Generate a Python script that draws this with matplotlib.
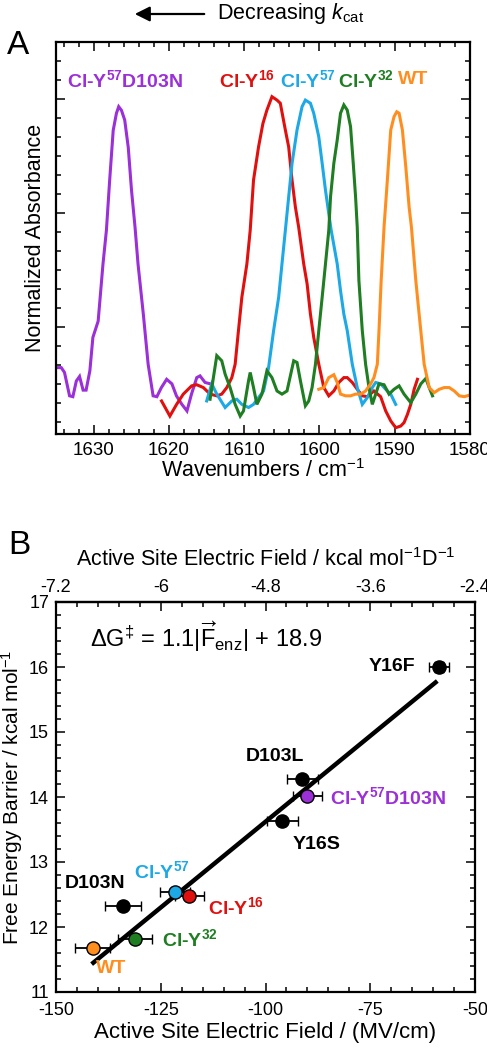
import matplotlib
matplotlib.use("Agg")
import matplotlib.pyplot as plt
from matplotlib.ticker import MultipleLocator, FuncFormatter, NullFormatter

plt.rcParams['font.family'] = ['Liberation Sans', 'DejaVu Sans']
plt.rcParams['mathtext.fontset'] = 'custom'
plt.rcParams['mathtext.rm'] = 'Liberation Sans'
plt.rcParams['mathtext.it'] = 'Liberation Sans:italic'
plt.rcParams['mathtext.bf'] = 'Liberation Sans:bold'
plt.rcParams['axes.unicode_minus'] = False

# ---- panel A: IR spectra (wavenumber, normalized absorbance) ----
purple_w = [1635.0, 1634.3, 1633.87, 1633.2, 1632.76, 1632.3, 1631.87, 1631.4, 1631.0, 1630.5,
            1630.1, 1629.4, 1628.76, 1628.3, 1627.87, 1627.4, 1626.97, 1626.67, 1626.3, 1625.87,
            1625.4, 1624.97, 1624.5, 1624.1, 1623.4, 1622.76, 1622.1, 1621.6, 1621.0, 1620.3,
            1619.6, 1619.0, 1618.3, 1617.6, 1617.0, 1616.3, 1615.87, 1615.2, 1614.5]
purple_a = [0.057, 0.057, 0.040, -0.042, -0.045, 0.010, 0.026, -0.022, -0.022, 0.046,
            0.163, 0.22, 0.42, 0.54, 0.715, 0.89, 0.95, 0.973, 0.96, 0.926,
            0.83, 0.68, 0.55, 0.42, 0.245, 0.069, -0.042, -0.045, -0.013, 0.016,
            0.0, -0.042, -0.071, -0.095, -0.036, 0.022, 0.028, 0.005, 0.0]

red_w = [1620.98, 1619.87, 1618.98, 1618.09, 1616.98, 1616.31, 1615.42, 1614.53, 1613.64, 1612.98,
         1612.31, 1611.64, 1611.2, 1610.76, 1610.31, 1609.64, 1609.2, 1608.76, 1608.09, 1607.51,
         1606.98, 1606.31, 1605.64, 1605.2, 1604.53, 1604.09, 1603.64, 1603.2, 1602.76, 1602.09,
         1601.64, 1601.2, 1600.76, 1600.09, 1599.42, 1598.76, 1598.09, 1597.42, 1596.76, 1596.31,
         1595.64, 1594.98, 1594.31, 1593.64, 1592.76, 1591.87, 1591.2, 1590.53, 1589.87, 1589.2,
         1588.76, 1588.31, 1587.87, 1587.42, 1586.98]
red_a = [-0.060, -0.113, -0.072, -0.036, -0.007, -0.003, -0.013, -0.036, -0.042, -0.036,
         -0.013, 0.022, 0.069, 0.187, 0.304, 0.421, 0.539, 0.715, 0.832, 0.914,
         0.961, 1.008, 0.996, 0.985, 0.891, 0.832, 0.715, 0.621, 0.55, 0.421,
         0.351, 0.245, 0.163, 0.069, -0.013, -0.042, -0.025, 0.005, 0.022, 0.022,
         0.005, -0.019, -0.042, -0.045, -0.025, -0.045, -0.095, -0.130, -0.154, -0.148,
         -0.136, -0.107, -0.072, -0.019, 0.016]

blue_w = [1614.98, 1614.31, 1613.64, 1612.53, 1611.64, 1610.98, 1610.31, 1609.42, 1608.76, 1608.09,
          1607.42, 1606.76, 1606.09, 1605.42, 1604.98, 1604.53, 1604.09, 1603.64, 1602.98, 1602.31,
          1601.87, 1601.2, 1600.76, 1600.09, 1599.64, 1599.2, 1598.76, 1598.44, 1597.64, 1597.2,
          1596.76, 1596.31, 1595.64, 1594.98, 1594.31, 1593.64, 1592.98, 1592.53, 1591.87, 1591.2,
          1590.53, 1589.87]
blue_a = [-0.060, 0.0, -0.036, -0.083, -0.060, -0.054, -0.072, -0.083, -0.072, -0.048,
          -0.025, 0.057, 0.187, 0.304, 0.421, 0.539, 0.656, 0.774, 0.891, 0.973,
          0.996, 0.985, 0.95, 0.867, 0.774, 0.68, 0.597, 0.539, 0.421, 0.327,
          0.245, 0.187, 0.069, -0.013, -0.072, -0.048, -0.013, 0.005, 0.0, -0.019,
          -0.036, -0.072]

green_w = [1614.53, 1614.09, 1613.64, 1612.98, 1612.53, 1611.87, 1611.2, 1610.53, 1610.09, 1609.42,
           1609.2, 1608.76, 1608.31, 1607.64, 1606.98, 1606.31, 1605.64, 1604.98, 1604.31, 1603.42,
           1602.98, 1602.53, 1601.87, 1601.42, 1600.98, 1600.53, 1600.09, 1599.64, 1599.2, 1598.76,
           1598.53, 1598.09, 1597.64, 1597.2, 1596.76, 1596.31, 1595.87, 1595.51, 1595.2, 1594.98,
           1594.76, 1594.31, 1593.87, 1593.42, 1592.98, 1592.53, 1592.09, 1591.42, 1590.76, 1590.09,
           1589.42, 1588.76, 1587.87, 1587.2, 1586.53, 1585.87, 1585.42, 1584.98]
green_a = [-0.054, 0.022, 0.099, 0.081, 0.034, -0.013, -0.072, -0.113, -0.095, 0.011,
           0.040, -0.013, -0.072, -0.036, 0.046, 0.022, -0.025, -0.036, -0.025, 0.081,
           0.075, 0.011, -0.077, -0.060, -0.013, 0.069, 0.187, 0.304, 0.421, 0.539,
           0.656, 0.774, 0.856, 0.95, 0.979, 0.961, 0.903, 0.774, 0.656, 0.55,
           0.363, 0.187, 0.069, -0.013, -0.072, -0.036, 0.0, -0.003, -0.036, -0.019,
           -0.007, -0.036, -0.066, -0.036, 0.0, 0.019, -0.013, -0.042]

orange_w = [1600.09, 1599.42, 1598.76, 1598.09, 1597.64, 1597.2, 1596.53, 1595.87, 1595.2, 1594.53,
            1593.87, 1593.2, 1592.76, 1592.31, 1592.09, 1591.8, 1591.42, 1590.98, 1590.53, 1590.09,
            1589.73, 1589.42, 1588.98, 1588.53, 1588.09, 1587.78, 1587.2, 1586.76, 1586.09, 1585.42,
            1584.76, 1584.09, 1583.42, 1582.76, 1582.09, 1581.42, 1580.76, 1580.0]
orange_a = [-0.019, -0.013, 0.022, 0.032, 0.005, -0.036, -0.042, -0.042, -0.036, -0.036,
            -0.025, 0.0, 0.022, 0.069, 0.187, 0.363, 0.55, 0.715, 0.891, 0.938,
            0.955, 0.95, 0.891, 0.762, 0.621, 0.55, 0.363, 0.245, 0.069, -0.013,
            -0.031, -0.019, -0.013, -0.013, -0.025, -0.042, -0.045, -0.039]

PURPLE = '#9B2FD8'
RED = '#E0100E'
BLUE = '#1DA8E6'
GREEN = '#1F7D22'
ORANGE = '#FF8E1E'

spectra = [(purple_w, purple_a, PURPLE), (red_w, red_a, RED), (blue_w, blue_a, BLUE),
           (green_w, green_a, GREEN), (orange_w, orange_a, ORANGE)]
spec_labels = [r'Cl-Y$^{\mathbf{57}}$D103N', r'Cl-Y$^{\mathbf{16}}$', r'Cl-Y$^{\mathbf{57}}$',
               r'Cl-Y$^{\mathbf{32}}$', 'WT']
spec_label_x = [1633.5, 1613.3, 1605.3, 1597.6, 1589.6]
spec_colors = [PURPLE, RED, BLUE, GREEN, ORANGE]

# ---- panel B: barrier vs field ----
mutants = ['Y16F', 'D103L', 'Cl-Y57D103N', 'Y16S', 'Cl-Y57', 'Cl-Y16', 'D103N', 'Cl-Y32', 'WT']
field = [-58.6, -91.2, -90.0, -96.0, -121.6, -118.2, -133.9, -131.2, -141.2]
field_err = [2.4, 3.7, 3.4, 3.7, 3.5, 3.5, 4.3, 4.1, 4.2]
barrier = [16.0, 14.27, 14.01, 13.63, 12.54, 12.47, 12.33, 11.81, 11.67]
barrier_err = [0.07, 0.05, 0.05, 0.05, 0.05, 0.05, 0.05, 0.05, 0.05]
point_colors = ['black', 'black', PURPLE, 'black', BLUE, RED, 'black', GREEN, ORANGE]
fit_slope = 1.1
fit_icept = 18.9
fit_range = [-141.5, -59.0]
MV_TO_KCAL = 0.048

fig = plt.figure(figsize=(4.87, 10.5), dpi=100)

# ---------------- panel A ----------------
axA = fig.add_axes([56 / 487, 1 - 434 / 1050, 414 / 487, 392 / 1050])
for w, a, c in spectra:
    axA.plot(w, a, color=c, lw=2.2, solid_joinstyle='miter')
axA.set_xlim(1635, 1580)
axA.set_ylim(-0.176, 1.2)
axA.xaxis.set_major_locator(MultipleLocator(10))
axA.xaxis.set_minor_locator(MultipleLocator(2))
axA.yaxis.set_major_locator(MultipleLocator(0.4, offset=0.2))
axA.yaxis.set_minor_locator(MultipleLocator(1 / 15))
axA.yaxis.set_major_formatter(NullFormatter())
axA.set_xlabel('Wavenumbers / cm$^{-1}$', fontsize=15.5)
axA.set_ylabel('Normalized Absorbance', fontsize=15.5)
axA.xaxis.set_label_coords(0.5, -0.092)
axA.xaxis.label.set_va('center')
axA.yaxis.set_label_coords(-0.05, 0.5)
axA.yaxis.label.set_va('center')
for lab, x, c in zip(spec_labels, spec_label_x, spec_colors):
    axA.text(x, 1.067, lab, color=c, fontsize=14, fontweight='bold', ha='left', va='center')

# ---------------- panel B ----------------
axB = fig.add_axes([56 / 487, 1 - 992 / 1050, 419 / 487, 390 / 1050])
axB.plot(fit_range, [fit_icept + fit_slope * MV_TO_KCAL * x for x in fit_range],
         color='black', lw=3.2, solid_capstyle='butt', zorder=2)
for x, xe, y, ye, c in zip(field, field_err, barrier, barrier_err, point_colors):
    axB.errorbar(x, y, xerr=xe, yerr=ye, fmt='o', ms=9.5, mfc=c, mec='black', mew=1.0,
                 ecolor='black', elinewidth=1.3, capsize=3.5, capthick=1.3, zorder=3)
axB.set_xlim(-150, -50)
axB.set_ylim(11, 17)
axB.xaxis.set_major_locator(MultipleLocator(25))
axB.xaxis.set_minor_locator(MultipleLocator(5))
axB.yaxis.set_major_locator(MultipleLocator(1))
axB.yaxis.set_minor_locator(MultipleLocator(0.2))
axB.set_xlabel('Active Site Electric Field / (MV/cm)', fontsize=16)
axB.set_ylabel('Free Energy Barrier / kcal mol$^{-1}$', fontsize=15)
axB.xaxis.set_label_coords(0.5, -0.105)
axB.xaxis.label.set_va('center')
axB.yaxis.set_label_coords(-0.104, 0.5)
axB.yaxis.label.set_va('center')

top = axB.secondary_xaxis('top', functions=(lambda x: x * MV_TO_KCAL, lambda x: x / MV_TO_KCAL))
top.xaxis.set_major_locator(MultipleLocator(1.2))
top.xaxis.set_minor_locator(MultipleLocator(0.24))
top.xaxis.set_major_formatter(FuncFormatter(lambda v, p: '%g' % round(v, 2)))
top.tick_params(which='major', direction='in', length=6.5, width=1.1, labelsize=13, pad=4)
top.tick_params(which='minor', direction='in', length=3.6, width=1.1)
top.spines['top'].set_linewidth(1.6)
axB.text(0.5, 1.108, 'Active Site Electric Field / kcal mol$^{-1}$D$^{-1}$', fontsize=15.5,
         ha='center', va='center', transform=axB.transAxes)

axB.text(-141.9, 16.46, r'ΔG$^{‡}$ = 1.1$|\overrightarrow{\mathrm{F}}_{\mathrm{enz}}|$ + 18.9',
         fontsize=17, ha='left', va='center')

b_labels = [('Y16F', -64.3, 16.01, 'right', 'black'),
            ('D103L', -97.7, 14.63, 'center', 'black'),
            (r'Cl-Y$^{\mathbf{57}}$D103N', -84.6, 14.0, 'left', PURPLE),
            ('Y16S', -87.8, 13.27, 'center', 'black'),
            (r'Cl-Y$^{\mathbf{57}}$', -124.8, 12.86, 'center', BLUE),
            ('D103N', -140.6, 12.67, 'center', 'black'),
            (r'Cl-Y$^{\mathbf{16}}$', -113.7, 12.3, 'left', RED),
            (r'Cl-Y$^{\mathbf{32}}$', -124.7, 11.81, 'left', GREEN),
            ('WT', -136.9, 11.36, 'center', ORANGE)]
for txt, x, y, ha, c in b_labels:
    axB.text(x, y, txt, color=c, fontsize=14, fontweight='bold', ha=ha, va='center')

for ax in (axA, axB):
    ax.tick_params(which='both', direction='in', top=(ax is axA), right=True)
    ax.tick_params(which='major', length=6.5, width=1.1, labelsize=13, pad=5)
    ax.tick_params(which='minor', length=3.6, width=1.1)
    for s in ax.spines.values():
        s.set_linewidth(1.6)
axA.tick_params(axis='x', pad=6, labelsize=13.5)
axB.tick_params(axis='x', pad=7)

# panel letters and the k_cat arrow
fig.text(7 / 487, 1 - 45 / 1050, 'A', fontsize=24, ha='left', va='center')
fig.text(8 / 487, 1 - 545 / 1050, 'B', fontsize=24, ha='left', va='center')
fig.patches.append(matplotlib.patches.FancyArrowPatch(
    (207 / 487, 1 - 14 / 1050), (132 / 487, 1 - 14 / 1050), transform=fig.transFigure,
    arrowstyle='-|>,head_length=6,head_width=3', lw=1.6, color='black', mutation_scale=1.5))
fig.text(217 / 487, 1 - 14 / 1050, r'Decreasing $k_{\mathrm{cat}}$', fontsize=15.5,
         ha='left', va='center')

fig.savefig('out.png', dpi=100)
